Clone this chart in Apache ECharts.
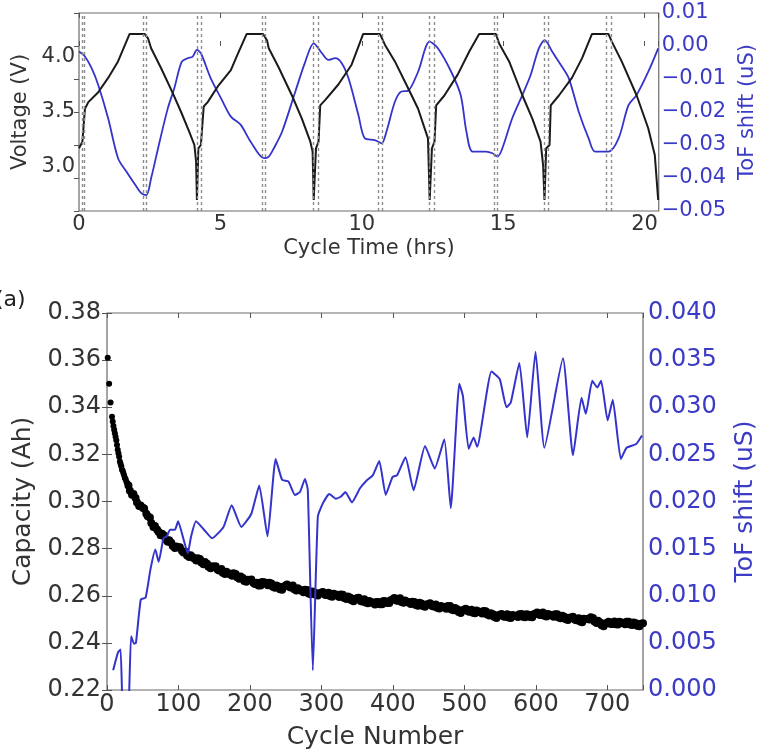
<!DOCTYPE html>
<html><head><meta charset="utf-8">
<script src="https://cdn.jsdelivr.net/npm/echarts@6/dist/echarts.min.js"></script>
<style>html,body{margin:0;padding:0;background:#fff}#c{width:766px;height:755px}</style>
</head><body><div id="c"></div>
<script>
// ---- Top panel: voltage vs cycle time [hrs, V]
const voltageCurve = [[0,3.17],[0.12,3.23],[0.21,3.53],[0.33,3.59],[0.68,3.68],[1.03,3.81],[1.38,3.96],[1.79,4.21],[2.32,4.21],[2.44,4.17],[2.55,4.08],[2.9,3.9],[3.32,3.67],[3.61,3.5],[3.9,3.32],[4.08,3.2],[4.14,3.05],[4.17,2.7],[4.22,3.17],[4.31,3.2],[4.41,3.55],[4.55,3.59],[4.9,3.73],[5.37,3.88],[5.6,4.02],[5.93,4.21],[6.51,4.21],[6.65,4.15],[6.71,4.08],[7.07,3.9],[7.53,3.65],[7.88,3.44],[8.18,3.23],[8.26,3.14],[8.3,2.7],[8.38,3.17],[8.47,3.23],[8.53,3.56],[8.71,3.61],[9.17,3.75],[9.64,3.93],[10.05,4.21],[10.64,4.21],[10.82,4.11],[11.17,3.96],[11.63,3.72],[11.99,3.53],[12.34,3.26],[12.4,2.7],[12.48,3.17],[12.57,3.23],[12.63,3.56],[12.92,3.65],[13.39,3.84],[13.8,4.05],[14.15,4.21],[14.74,4.21],[14.86,4.12],[15.21,3.96],[15.68,3.65],[16.03,3.44],[16.32,3.23],[16.41,3.02],[16.46,2.7],[16.52,3.17],[16.64,3.2],[16.68,3.56],[16.97,3.65],[17.43,3.81],[17.79,3.99],[18.14,4.21],[18.72,4.21],[18.84,4.14],[19.19,3.96],[19.72,3.65],[20.13,3.35],[20.36,3.11],[20.48,2.7]];
// ---- Top panel: ToF shift vs cycle time [hrs, uS]
const tofByTime = [[0,-0.0017],[0.21,-0.0032],[0.45,-0.0068],[0.68,-0.0118],[1.03,-0.0219],[1.38,-0.034],[1.68,-0.0381],[2.03,-0.0426],[2.2,-0.0446],[2.38,-0.0452],[2.55,-0.0401],[2.85,-0.029],[3.14,-0.0189],[3.37,-0.0128],[3.63,-0.0048],[3.84,-0.0037],[4.02,-0.0032],[4.17,-0.0012],[4.31,-0.0022],[4.66,-0.0098],[5.02,-0.0158],[5.37,-0.0214],[5.72,-0.0239],[6.07,-0.029],[6.54,-0.034],[6.71,-0.0335],[6.89,-0.031],[7.18,-0.026],[7.65,-0.0138],[8.0,-0.0048],[8.3,0.0008],[8.59,-0.0022],[8.82,-0.0042],[9.06,-0.0037],[9.29,-0.0052],[9.53,-0.0098],[9.88,-0.0209],[10.11,-0.028],[10.46,-0.0285],[10.7,-0.0295],[10.87,-0.026],[11.17,-0.0169],[11.4,-0.0138],[11.63,-0.0136],[11.99,-0.0078],[12.4,0.0013],[12.69,-0.0007],[13.16,-0.0078],[13.5,-0.015],[13.7,-0.026],[13.92,-0.032],[14.39,-0.032],[14.62,-0.0325],[14.8,-0.0335],[14.97,-0.031],[15.32,-0.0219],[15.68,-0.0148],[15.97,-0.0088],[16.26,-0.0007],[16.47,0.0018],[16.73,-0.0017],[17.08,-0.0063],[17.32,-0.0098],[17.67,-0.0199],[18.02,-0.028],[18.25,-0.032],[18.72,-0.032],[19.08,-0.028],[19.43,-0.0179],[19.72,-0.0148],[20.13,-0.0078],[20.48,-0.0007]];
// ---- Top panel: dotted marker times [hrs]
const markerTimes = [0.1,0.17,2.26,2.38,4.17,4.31,6.48,6.6,8.3,8.45,10.58,10.72,12.4,12.57,14.68,14.8,16.44,16.59,18.66,18.82];
// ---- Bottom panel: capacity vs cycle number [cycle, Ah] (early cycles)
const capacityEarly = [[1,.361],[3,.350],[5,.342],[7,.336],[8,.334],[9,.332],[10,.3305],[11,.329],[12,.3275],[13,.326],[14,.324],[15,.322],[16,.3205],[17,.319],[18,.317],[19,.316],[20,.315],[21,.3135],[22,.313],[23,.312],[24,.311],[25,.310],[26,.3095],[27,.3085],[28,.308],[29,.3075]];
// ---- Bottom panel: capacity vs cycle number [cycle, Ah] (every 5th cycle)
const capacityByCycle = [[30,.3068],[35,.3029],[40,.3015],[45,.2981],[50,.2973],[55,.2948],[60,.2932],[65,.2892],[70,.2881],[75,.2857],[80,.2856],[85,.2829],[90,.2825],[95,.2803],[100,.2805],[105,.2790],[110,.2787],[115,.2764],[120,.2763],[125,.2750],[130,.2756],[135,.2734],[140,.2736],[145,.2717],[150,.2723],[155,.2710],[160,.2713],[165,.2692],[170,.2695],[175,.2685],[180,.2692],[185,.2672],[190,.2675],[195,.2659],[200,.2667],[205,.2654],[210,.2655],[215,.2644],[220,.2657],[225,.2645],[230,.2652],[235,.2634],[240,.2639],[245,.2625],[250,.2643],[255,.2638],[260,.2643],[265,.2622],[270,.2625],[275,.2615],[280,.2624],[285,.2606],[290,.2615],[295,.2601],[300,.2613],[305,.2604],[310,.2613],[315,.2596],[320,.2605],[325,.2595],[330,.2604],[335,.2586],[340,.2593],[345,.2577],[350,.2589],[355,.2578],[360,.2585],[365,.2568],[370,.2573],[375,.2563],[380,.2574],[385,.2564],[390,.2577],[395,.2569],[400,.2585],[405,.2580],[410,.2589],[415,.2570],[420,.2575],[425,.2565],[430,.2574],[435,.2558],[440,.2567],[445,.2553],[450,.2565],[455,.2556],[460,.2563],[465,.2546],[470,.2553],[475,.2545],[480,.2556],[485,.2538],[490,.2543],[495,.2527],[500,.2541],[505,.2534],[510,.2541],[515,.2526],[520,.2533],[525,.2525],[530,.2534],[535,.2516],[540,.2521],[545,.2506],[550,.2519],[555,.2512],[560,.2521],[565,.2506],[570,.2516],[575,.2510],[580,.2523],[585,.2509],[590,.2519],[595,.2509],[600,.2525],[605,.2519],[610,.2529],[615,.2512],[620,.2519],[625,.2511],[630,.2521],[635,.2504],[640,.2511],[645,.2497],[650,.2508],[655,.2498],[660,.2504],[665,.2488],[670,.2501],[675,.2499],[680,.2506],[685,.2484],[690,.2487],[695,.2471],[700,.2485],[705,.2480],[710,.2491],[715,.2478],[720,.2487],[725,.2479],[730,.2490],[735,.2476],[740,.2483],[745,.2471],[750,.2483]];
// ---- Bottom panel: capacity vs cycle number [cycle, Ah] (in-between cycles)
const capacityByCycleB = [[32,.3046],[37,.3032],[42,.2996],[47,.2983],[52,.2970],[57,.2937],[62,.2909],[67,.2896],[72,.2872],[77,.2863],[82,.2839],[87,.2836],[92,.2811],[97,.2809],[102,.2806],[107,.2784],[112,.2771],[117,.2772],[122,.2758],[127,.2759],[132,.2741],[137,.2743],[142,.2723],[147,.2725],[152,.2725],[157,.2707],[162,.2698],[167,.2702],[172,.2691],[177,.2695],[182,.2678],[187,.2682],[192,.2663],[197,.2668],[202,.2669],[207,.2650],[212,.2644],[217,.2658],[222,.2653],[227,.2655],[232,.2638],[237,.2644],[242,.2628],[247,.2638],[252,.2648],[257,.2635],[262,.2628],[267,.2632],[272,.2621],[277,.2625],[282,.2610],[287,.2618],[292,.2604],[297,.2611],[302,.2616],[307,.2603],[312,.2599],[317,.2608],[322,.2601],[327,.2605],[332,.2590],[337,.2597],[342,.2581],[347,.2587],[352,.2591],[357,.2576],[362,.2571],[367,.2578],[372,.2569],[377,.2574],[382,.2564],[387,.2578],[392,.2569],[397,.2581],[402,.2590],[407,.2579],[412,.2574],[417,.2580],[422,.2571],[427,.2575],[432,.2561],[437,.2570],[442,.2556],[447,.2563],[452,.2568],[457,.2554],[462,.2549],[467,.2557],[472,.2550],[477,.2556],[482,.2542],[487,.2548],[492,.2531],[497,.2538],[502,.2545],[507,.2532],[512,.2528],[517,.2537],[522,.2530],[527,.2535],[532,.2520],[537,.2526],[542,.2510],[547,.2517],[552,.2523],[557,.2511],[562,.2508],[567,.2518],[572,.2514],[577,.2522],[582,.2511],[587,.2521],[592,.2510],[597,.2521],[602,.2529],[607,.2518],[612,.2515],[617,.2523],[622,.2516],[627,.2522],[632,.2508],[637,.2515],[642,.2500],[647,.2507],[652,.2511],[657,.2496],[662,.2491],[667,.2502],[672,.2501],[677,.2509],[682,.2491],[687,.2494],[692,.2475],[697,.2482],[702,.2490],[707,.2480],[712,.2479],[717,.2490],[722,.2484],[727,.2490],[732,.2478],[737,.2487],[742,.2473],[747,.2481]];
// ---- Bottom panel: ToF shift vs cycle number [cycle, uS]
const tofByCycle = [[8.6,0.0021],[15.4,0.0040],[19,0.0043],[23,-0.004],[29,-0.004],[33.7,0.0057],[38,0.0049],[40.5,0.0050],[47.3,0.0096],[54,0.0098],[60.8,0.0128],[67.6,0.0149],[72.3,0.0136],[79,0.0161],[83.6,0.0163],[88.2,0.0170],[95,0.0170],[99.5,0.0179],[106,0.0163],[113,0.0145],[117.7,0.0163],[124.5,0.0179],[135.8,0.0170],[147,0.0161],[163,0.0173],[174.5,0.0196],[188,0.0173],[202,0.0187],[213,0.0217],[224.6,0.0163],[236,0.0245],[245,0.0223],[254,0.0221],[263,0.0207],[270,0.0210],[277,0.0224],[281,0.0212],[288,0.0021],[295,0.0184],[302,0.0198],[311,0.0208],[320,0.0203],[327,0.0205],[333.6,0.0210],[342.7,0.0199],[354,0.0214],[363,0.0222],[372,0.0228],[381,0.0243],[390,0.0207],[399.5,0.0226],[406,0.0228],[417.7,0.0247],[429,0.0212],[445,0.0259],[458.6,0.0235],[472,0.0266],[481,0.0193],[493,0.0325],[498,0.0312],[506,0.0256],[513,0.0268],[518,0.0258],[538,0.0338],[549.5,0.0330],[559,0.0300],[565,0.0305],[577,0.0347],[588,0.0268],[599.6,0.0359],[612,0.0257],[638,0.0352],[652,0.0249],[664,0.0310],[670,0.0293],[679,0.0328],[686,0.0321],[691.4,0.0328],[700.5,0.0286],[707.7,0.0308],[719,0.0245],[727,0.0257],[740.5,0.0261],[748.6,0.0270]];

const FONT = 'DejaVu Sans';
const DARK = '#333333';
const BLUE_TXT = '#3b3bc6';
const BLUE_LINE = '#3434cc';
const BORDER = '#6a6a6a';
const fmtMinus = s => s.replace('-', '\u2212');
const clean = v => (Math.abs(v) < 1e-9 ? 0 : v);

const chart = echarts.init(document.getElementById('c'), null, {renderer: 'canvas'});

const tickStyle = {inside: true, length: 5, lineStyle: {color: '#555', width: 1}};
function topAxis(grid, min, max, interval) {
  return {type: 'value', gridIndex: grid, position: 'top', min, max, interval,
    axisLine: {show: false}, axisTick: tickStyle, axisLabel: {show: false}, splitLine: {show: false}};
}

const capacityAll = capacityEarly.concat(capacityByCycle, capacityByCycleB);

const option = {
  animation: false,
  backgroundColor: '#fff',
  textStyle: {fontFamily: FONT},
  grid: [
    {left: 79, top: 13, width: 582, height: 198, show: true, borderColor: BORDER, borderWidth: 1.2, backgroundColor: 'transparent'},
    {left: 107, top: 313, width: 550, height: 380, show: true, borderColor: BORDER, borderWidth: 1.2, backgroundColor: 'transparent'}
  ],
  xAxis: [
    {type: 'value', gridIndex: 0, min: 0, max: 20.5, interval: 5,
      axisLine: {show: false}, axisTick: tickStyle, splitLine: {show: false},
      axisLabel: {fontSize: 21, color: DARK, margin: 3, fontFamily: FONT,
        formatter: v => (Math.abs(v % 5) < 1e-9 ? String(v) : '')},
      name: 'Cycle Time (hrs)', nameLocation: 'middle', nameGap: 27,
      nameTextStyle: {fontSize: 21, color: DARK, fontFamily: FONT}},
    topAxis(0, 0, 20.5, 5),
    {type: 'value', gridIndex: 1, min: 0, max: 750, interval: 100,
      axisLine: {show: false}, axisTick: tickStyle, splitLine: {show: false},
      axisLabel: {fontSize: 24, color: DARK, margin: 3, fontFamily: FONT,
        formatter: v => (v % 100 === 0 ? String(v) : '')},
      name: 'Cycle Number', nameLocation: 'middle', nameGap: 35,
      nameTextStyle: {fontSize: 25, color: DARK, fontFamily: FONT}},
    topAxis(1, 0, 750, 100)
  ],
  yAxis: [
    {type: 'value', gridIndex: 0, position: 'left', min: 2.6, max: 4.4, interval: 0.1,
      axisLine: {show: false}, axisTick: {show: false}, splitLine: {show: false},
      axisLabel: {fontSize: 21, color: DARK, margin: 4, fontFamily: FONT,
        formatter: v => { const r = Math.round(v * 10); return (r % 5 === 0 && r >= 30 && r <= 40) ? (r / 10).toFixed(1) : ''; }},
      name: 'Voltage (V)', nameLocation: 'middle', nameGap: 47, nameRotate: 90,
      nameTextStyle: {fontSize: 21, color: DARK, fontFamily: FONT}},
    {type: 'value', gridIndex: 0, position: 'right', min: -0.05, max: 0.01, interval: 0.01,
      axisLine: {show: false}, axisTick: tickStyle, splitLine: {show: false},
      axisLabel: {fontSize: 21, color: BLUE_TXT, margin: 3, fontFamily: FONT,
        formatter: v => fmtMinus(clean(Math.round(v * 100) / 100).toFixed(2))},
      name: 'ToF shift (uS)', nameLocation: 'middle', nameGap: 66, nameRotate: 90,
      nameTextStyle: {fontSize: 21, color: BLUE_TXT, fontFamily: FONT}},
    {type: 'value', gridIndex: 1, position: 'left', min: 0.22, max: 0.38, interval: 0.02,
      axisLine: {show: false}, axisTick: tickStyle, splitLine: {show: false},
      axisLabel: {fontSize: 24, color: DARK, margin: 6, fontFamily: FONT,
        formatter: v => v.toFixed(2)},
      name: 'Capacity (Ah)', nameLocation: 'middle', nameGap: 71, nameRotate: 90,
      nameTextStyle: {fontSize: 25, color: DARK, fontFamily: FONT}},
    {type: 'value', gridIndex: 1, position: 'right', min: 0, max: 0.04, interval: 0.005,
      axisLine: {show: false}, axisTick: tickStyle, splitLine: {show: false},
      axisLabel: {fontSize: 24, color: BLUE_TXT, margin: 5, fontFamily: FONT,
        formatter: v => clean(v).toFixed(3)},
      name: 'ToF shift (uS)', nameLocation: 'middle', nameGap: 90, nameRotate: 90,
      nameTextStyle: {fontSize: 25, color: BLUE_TXT, fontFamily: FONT}}
  ],
  series: [
    {type: 'line', name: 'Voltage', xAxisIndex: 0, yAxisIndex: 0, data: voltageCurve,
      showSymbol: false, lineStyle: {color: '#1a1a1a', width: 2}, z: 3,
      markLine: {silent: true, symbol: ['none', 'none'], label: {show: false},
        lineStyle: {color: '#8c8c8c', type: [3, 3], width: 1.4},
        emphasis: {disabled: true},
        data: markerTimes.map(t => ({xAxis: t}))}},
    {type: 'line', name: 'ToF (time)', xAxisIndex: 0, yAxisIndex: 1, data: tofByTime,
      showSymbol: false, smooth: 0.3, lineStyle: {color: BLUE_LINE, width: 1.8}, z: 2},
    {type: 'scatter', name: 'Capacity', xAxisIndex: 2, yAxisIndex: 2, data: capacityAll,
      symbolSize: v => (v[0] < 30 ? 6 : 8), itemStyle: {color: '#000', opacity: 1}, z: 2},
    {type: 'line', name: 'ToF (cycle)', xAxisIndex: 2, yAxisIndex: 3, data: tofByCycle,
      showSymbol: false, smooth: 0.15, clip: true, lineStyle: {color: BLUE_LINE, width: 2}, z: 3}
  ],
  graphic: [
    {type: 'text', left: -5, top: 289, style: {text: '(a)', fontSize: 22, fill: '#222', fontFamily: FONT}}
  ]
};
chart.setOption(option);
</script></body></html>
